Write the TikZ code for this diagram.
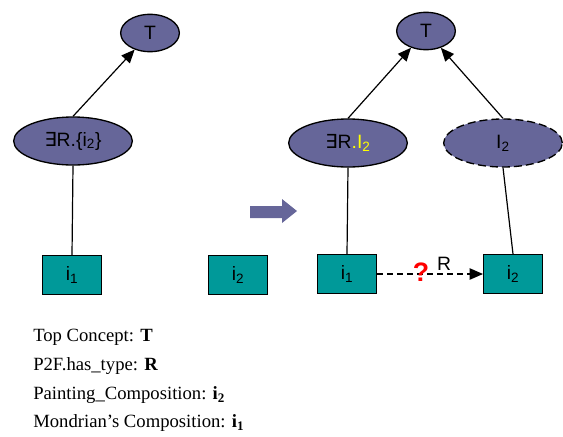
\documentclass[tikz,border=0pt]{standalone}
\usepackage{fontspec}
\setmainfont{Liberation Serif}
\setsansfont{Liberation Sans}
\newfontfamily\symfnt{DejaVu Sans}
\usetikzlibrary{
    shapes.geometric,
    arrows.meta,
    positioning
}
\definecolor{cpurple}{HTML}{666699}
\definecolor{cteal}{HTML}{009999}
\definecolor{cyel}{HTML}{FFFF00}
\tikzset{cls/.style={ellipse, draw=black, line width=1pt, fill=cpurple, inner sep=0pt, font=\sffamily\fontsize{14.5}{16}\selectfont}}
\tikzset{topcls/.style={cls, minimum width=44pt, minimum height=28pt}}
\tikzset{rcls/.style={cls, minimum width=89pt, minimum height=36pt}}
\tikzset{ind/.style={rectangle, draw=black, line width=1pt, fill=cteal, minimum width=44pt, minimum height=29pt, inner sep=0pt, font=\sffamily\fontsize{14.5}{16}\selectfont}}
\tikzset{sub/.style={-{Triangle[length=10pt,width=8.5pt]}, line width=0.9pt}}
\tikzset{legend/.style={anchor=west, inner sep=0pt, font=\fontsize{14}{16}\selectfont}}

\begin{document}
\begin{tikzpicture}[x=0.75pt, y=-0.75pt]
    \useasboundingbox (0, 0) rectangle (563, 436);

    % before
    \node[topcls] (t1) at (150, 33) {T};
    \node[rcls] (ex1) at (73, 141) {{\symfnt ∃}R.\{i\textsubscript{2}\}};
    \node[ind] (i1l) at (72, 275) {i\textsubscript{1}};
    \node[ind] (i2l) at (238, 275) {i\textsubscript{2}};

    \draw[sub] (ex1.north) -- (t1);
    \draw[line width=0.9pt] (ex1.south) -- (i1l.north);

    % block arrow
    \fill[cpurple] (250, 206) -- (282, 206) -- (282, 199) -- (297, 211)
        -- (282, 223) -- (282, 218) -- (250, 218) -- cycle;

    % after
    \node[topcls] (t2) at (426, 31) {T};
    \node[rcls] (ex2) at (348, 143) {{\symfnt ∃}R{\color{cyel}.I\textsubscript{2}}};
    \node[rcls, dash pattern=on 6pt off 3pt] (iv) at (503, 143) {I\textsubscript{2}};
    \node[ind] (i1r) at (347, 274) {i\textsubscript{1}};
    \node[ind] (i2r) at (513, 274) {i\textsubscript{2}};

    \draw[sub] (ex2.north) -- (t2);
    \draw[sub] (iv.north) -- (t2);
    \draw[line width=0.9pt] (ex2.south) -- (i1r.north);
    \draw[line width=0.9pt] (iv.south) -- (i2r.north);
    \draw[sub, dash pattern=on 4.5pt off 3pt] (i1r) -- (i2r);
    \node[inner sep=0pt, text=red, font=\sffamily\bfseries\fontsize{20}{22}\selectfont] (qm) at (421, 272) {?};
    \node[inner sep=0pt, font=\sffamily\fontsize{14.5}{16}\selectfont] (rl) at (444, 264) {R};

    % legend
    \node[legend] (lg1) at (33, 337) {Top Concept: \textbf{T}};
    \node[legend] (lg2) at (33, 366) {P2F.has\_type: \textbf{R}};
    \node[legend] (lg3) at (33, 395) {Painting\_Composition: \textbf{i\textsubscript{2}}};
    \node[legend] (lg4) at (33, 423) {Mondrian’s Composition: \textbf{i\textsubscript{1}}};
\end{tikzpicture}
\end{document}
